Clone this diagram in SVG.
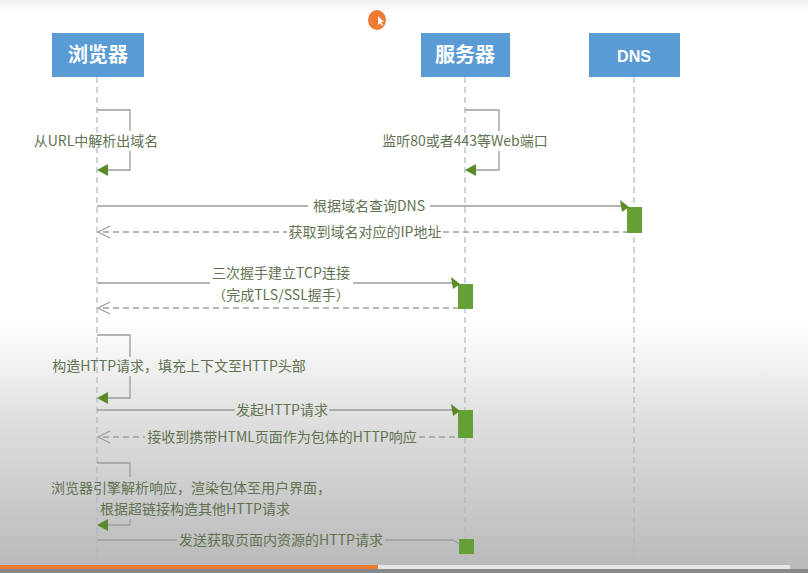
<svg xmlns="http://www.w3.org/2000/svg" width="808" height="573" viewBox="0 0 808 573">
<style>
.box{fill:#5b9bd5}
.bt{fill:#fff;font-family:"Noto Sans CJK SC",sans-serif;font-weight:bold;font-size:20px;text-anchor:middle}
.life{stroke:#a9b9c9;stroke-width:1.2;stroke-dasharray:6 4;fill:none}
.msg{stroke:#9c9c9c;stroke-width:1.3;fill:none}
.ret{stroke:#a0a0a0;stroke-width:1.3;fill:none;stroke-dasharray:6 4}
.lbl{fill:#627252;font-family:"Noto Sans CJK SC",sans-serif;font-size:14px;text-anchor:middle}
.act{fill:#64a035}
.ah{fill:#5a8a2a}
</style>
<defs>
<linearGradient id="bg" x1="0" y1="0" x2="0" y2="1">
<stop offset="0" stop-color="#eeeeee"/>
<stop offset="0.02" stop-color="#ffffff"/>
<stop offset="0.56" stop-color="#ffffff"/>
<stop offset="0.75" stop-color="#dcdcdc"/>
<stop offset="1" stop-color="#b8b8b8"/>
</linearGradient>
</defs>
<rect width="808" height="573" fill="url(#bg)"/>
<ellipse cx="377" cy="20" rx="9" ry="10" fill="#ee7a33"/>
<path d="M378 16 L378 25 L380 23 L382 26 L383 25 L381 22 L384 22 Z" fill="#fff"/>

<g id="browser"><rect class="box" x="52" y="33" width="92" height="44"/><text class="bt" x="98" y="62">浏览器</text></g>
<g id="server"><rect class="box" x="421" y="33" width="89" height="44"/><text class="bt" x="465" y="62">服务器</text></g>
<g id="dns"><rect class="box" x="589" y="33" width="91" height="44"/><text class="bt" x="634" y="62" style="font-family:'Liberation Sans',sans-serif;font-size:16px">DNS</text></g>

<g id="lifelines">
<line class="life" x1="97" y1="77" x2="97" y2="560"/>
<line class="life" x1="465" y1="77" x2="465" y2="560"/>
<line class="life" x1="634" y1="77" x2="634" y2="560"/>
</g>

<g id="activations">
<rect class="act" x="627" y="207" width="15" height="26"/>
<rect class="act" x="458" y="284" width="15" height="25"/>
<rect class="act" x="458" y="410" width="15" height="28"/>
<rect class="act" x="459" y="539" width="15" height="15"/>
</g>

<g id="connectors">
<path class="msg" d="M97 110 H130 V131 M130 151 V170 H106"/>
<path class="ah" d="M97 170 L108 164 L108 176 Z"/>
<path class="msg" d="M465 110 H499 V131 M499 151 V170 H474"/>
<path class="ah" d="M465 170 L476 164 L476 176 Z"/>
<path class="msg" d="M97 206 H308 M430 206 H622"/>
<path class="ah" d="M629 207 L620 200 L622 212 Z"/>
<path class="ret" d="M103 232 H287 M443 232 H627"/>
<path class="msg" d="M110 226 L98 232 L110 238"/>
<path class="msg" d="M97 283 H210 M353 283 H453"/>
<path class="ah" d="M460 284 L451 277 L453 289 Z"/>
<path class="ret" d="M103 308 H458"/>
<path class="msg" d="M110 302 L98 308 L110 314"/>
<path class="msg" d="M97 335 H130 V357 M130 376 V398 H106"/>
<path class="ah" d="M97 398 L108 392 L108 404 Z"/>
<path class="msg" d="M97 410 H235 M329 410 H453"/>
<path class="ah" d="M460 411 L451 404 L453 416 Z"/>
<path class="ret" d="M103 437 H145 M419 437 H458"/>
<path class="msg" d="M110 431 L98 437 L110 443"/>
<path class="msg" d="M97 463 H130 V477 M130 519 V525 H106"/>
<path class="ah" d="M97 525 L108 519 L108 531 Z"/>
<path class="msg" d="M97 540 H177 M385 540 H452 L460 544"/>
</g>

<g id="labels">
<text class="lbl" x="96" y="146">从URL中解析出域名</text>
<text class="lbl" x="465" y="146">监听80或者443等Web端口</text>
<text class="lbl" x="369" y="211">根据域名查询DNS</text>
<text class="lbl" x="365" y="237">获取到域名对应的IP地址</text>
<text class="lbl" x="281" y="278">三次握手建立TCP连接</text>
<text class="lbl" x="281" y="300">（完成TLS/SSL握手）</text>
<text class="lbl" x="179" y="371">构造HTTP请求，填充上下文至HTTP头部</text>
<text class="lbl" x="282" y="415">发起HTTP请求</text>
<text class="lbl" x="282" y="442">接收到携带HTML页面作为包体的HTTP响应</text>
<text class="lbl" x="191" y="493">浏览器引擎解析响应，渲染包体至用户界面，</text>
<text class="lbl" x="195" y="514">根据超链接构造其他HTTP请求</text>
<text class="lbl" x="281" y="545">发送获取页面内资源的HTTP请求</text>
</g>

<rect x="0" y="565" width="378" height="4" fill="#ee7a2e"/>
<rect x="378" y="565" width="412" height="4" fill="#e6e6e6"/>
<rect x="0" y="569" width="808" height="4" fill="#888888"/>
</svg>
